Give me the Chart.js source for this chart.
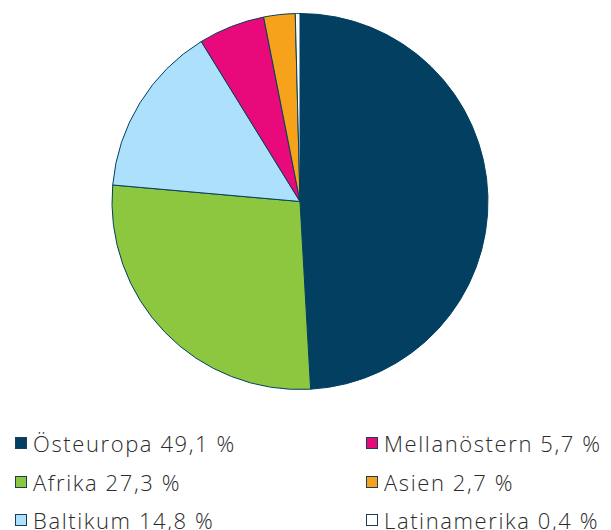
<!DOCTYPE html>
<html>
<head>
<meta charset="utf-8">
<script src="https://cdn.jsdelivr.net/npm/chart.js@4"></script>
<style>
  body { margin: 0; background: #fff; width: 611px; height: 530px; overflow: hidden; position: relative; font-family: "Open Sans", sans-serif; }
  #chartBox { position: absolute; left: 0; top: 13px; width: 600px; height: 377px; }
  .legend { position: absolute; top: 428px; left: 0; width: 611px; }
  .item { position: absolute; display: flex; align-items: center; font-size: 22px; color: #2b2b2b; white-space: nowrap; font-weight: 300; letter-spacing: 1.6px; }
  .box { width: 10px; height: 10px; border: 1px solid #1b3e5a; margin-right: 6px; }
</style>
</head>
<body>
<div id="chartBox"><canvas id="myChart"></canvas></div>
<div class="legend" id="legend"></div>
<script>
var labels = ['Östeuropa', 'Afrika', 'Baltikum', 'Mellanöstern', 'Asien', 'Latinamerika'];
var values = [49.1, 27.3, 14.8, 5.7, 2.7, 0.4];
var valueLabels = ['49,1 %', '27,3 %', '14,8 %', '5,7 %', '2,7 %', '0,4 %'];
var colors = ['#023f60', '#8dc63f', '#ade1fb', '#e8097b', '#f7a21b', '#ffffff'];

var canvas = document.getElementById('myChart');
var ctx = canvas.getContext('2d');

new Chart(ctx, {
    type: 'pie',
    data: {
        labels: labels,
        datasets: [{
            data: values,
            backgroundColor: colors,
            borderColor: '#023f60',
            borderWidth: 1
        }]
    },
    options: {
        responsive: true,
        maintainAspectRatio: false,
        animation: false,
        plugins: {
            legend: false,
            tooltip: { enabled: false }
        }
    }
});

// legend, two columns
var legendEl = document.getElementById('legend');
labels.forEach(function (label, i) {
    var col = Math.floor(i / 3);
    var row = i % 3;
    var item = document.createElement('div');
    item.className = 'item';
    item.style.left = (col === 0 ? 15 : 366) + 'px';
    item.style.top = (row * 38.5) + 'px';
    item.innerHTML = '<span class="box" style="background:' + colors[i] + '"></span>' + label + ' ' + valueLabels[i];
    legendEl.appendChild(item);
});
</script>
</body>
</html>
